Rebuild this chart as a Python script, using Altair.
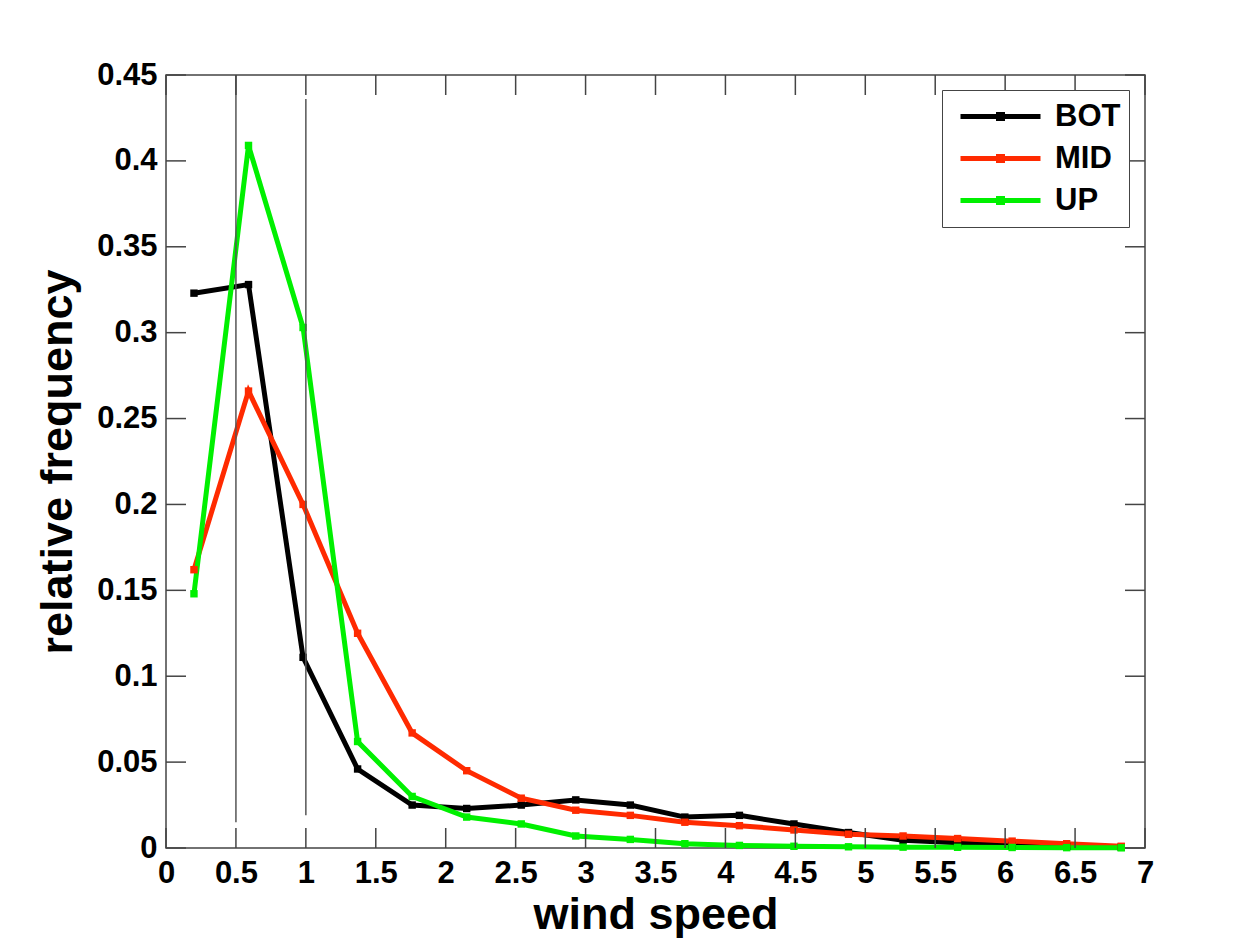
import altair as alt
import pandas as pd

# ---- data ----
speed = [0.2, 0.59, 0.98, 1.37, 1.76, 2.15, 2.54, 2.93, 3.32, 3.71, 4.1, 4.49,
         4.88, 5.27, 5.66, 6.05, 6.44, 6.83]
bot = [0.323, 0.328, 0.111, 0.046, 0.025, 0.023, 0.025, 0.028, 0.025, 0.018,
       0.019, 0.014, 0.009, 0.0045, 0.003, 0.0015, 0.001, 0.0005]
mid = [0.162, 0.266, 0.200, 0.125, 0.067, 0.045, 0.029, 0.022, 0.019, 0.015,
       0.013, 0.0105, 0.008, 0.007, 0.0055, 0.004, 0.0025, 0.001]
up = [0.148, 0.409, 0.303, 0.062, 0.030, 0.018, 0.014, 0.007, 0.005, 0.0025,
      0.0015, 0.001, 0.0007, 0.0005, 0.0004, 0.0003, 0.0002, 0.0001]
series_names = ["BOT", "MID", "UP"]
series_colors = ["#000000", "#ff2a00", "#00f000"]

x_ticks = [0, 0.5, 1, 1.5, 2, 2.5, 3, 3.5, 4, 4.5, 5, 5.5, 6, 6.5, 7]
y_ticks = [0, 0.05, 0.1, 0.15, 0.2, 0.25, 0.3, 0.35, 0.4, 0.45]

vline_x = [0.5, 1.0]
vline_top = [0.45, 0.436]
vline_bottom = [0.015, 0.019]

# ---- layout ----
W, H = 979, 773
TICK = 20
FONT = "Liberation Sans"
FRAME = "#444444"

rows = []
for name, vals in zip(series_names, [bot, mid, up]):
    for s, v in zip(speed, vals):
        rows.append({"speed": s, "freq": v, "series": name})
df = pd.DataFrame(rows)
xt_df = pd.DataFrame({"v": x_ticks})
yt_df = pd.DataFrame({"v": y_ticks})
vl_df = pd.DataFrame({"x": vline_x, "top": vline_top, "bottom": vline_bottom})

xscale = alt.Scale(domain=[0, 7], nice=False, zero=False)
yscale = alt.Scale(domain=[0, 0.45], nice=False)

x_axis = alt.Axis(values=x_ticks, format="~g", title="wind speed", tickSize=0,
                  domain=False, grid=False, labelPadding=10, titlePadding=4,
                  labelFlush=False)
y_axis = alt.Axis(values=y_ticks, format="~g", title="relative frequency",
                  tickSize=0, domain=False, grid=False, labelPadding=9,
                  titlePadding=16, labelFlush=False)

legend = alt.Legend(
    title=None, orient="none", legendX=776, legendY=15,
    symbolType="M-1,0L1,0M-0.05,-0.05L0.05,-0.05L0.05,0.05L-0.05,0.05Z",
    symbolSize=6400, symbolStrokeWidth=5, clipHeight=37, rowPadding=5,
    symbolOffset=8,
    labelFontSize=31, labelFont=FONT, labelFontWeight="bold",
    labelColor="black", labelOffset=12, padding=8, strokeColor=FRAME,
    fillColor="white", labelLimit=0,
)

vlines = alt.Chart(vl_df).mark_rule(color="#555555", strokeWidth=1.5).encode(
    x=alt.X("x:Q", scale=xscale, axis=x_axis),
    y=alt.Y("top:Q", scale=yscale, axis=y_axis),
    y2="bottom:Q",
)

tick_style = dict(color=FRAME, strokeWidth=1.5)
bottom_ticks = alt.Chart(xt_df).mark_rule(**tick_style).encode(
    x=alt.X("v:Q", scale=xscale, axis=x_axis),
    y=alt.value(H), y2=alt.value(H - TICK))
top_ticks = alt.Chart(xt_df).mark_rule(**tick_style).encode(
    x=alt.X("v:Q", scale=xscale, axis=x_axis),
    y=alt.value(0), y2=alt.value(TICK))
left_ticks = alt.Chart(yt_df).mark_rule(**tick_style).encode(
    y=alt.Y("v:Q", scale=yscale, axis=y_axis),
    x=alt.value(0), x2=alt.value(TICK))
right_ticks = alt.Chart(yt_df).mark_rule(**tick_style).encode(
    y=alt.Y("v:Q", scale=yscale, axis=y_axis),
    x=alt.value(W), x2=alt.value(W - TICK))

lines = alt.Chart(df).mark_line(
    strokeWidth=5,
    point=alt.OverlayMarkDef(shape="square", size=55, filled=True, opacity=1),
).encode(
    x=alt.X("speed:Q", scale=xscale, axis=x_axis),
    y=alt.Y("freq:Q", scale=yscale, axis=y_axis),
    color=alt.Color("series:N",
                    scale=alt.Scale(domain=series_names, range=series_colors),
                    sort=series_names, legend=legend),
)

chart = alt.layer(
    lines, vlines, bottom_ticks, top_ticks, left_ticks, right_ticks
).properties(
    width=W, height=H,
    autosize=alt.AutoSizeParams(type="none"),
    padding={"left": 158, "top": 67, "right": 80, "bottom": 90},
    background="white",
).configure_view(
    stroke=FRAME, strokeWidth=1.5, fill="white"
).configure_axis(
    labelFont=FONT, labelFontSize=31, labelFontWeight="bold", labelColor="black",
    titleFont=FONT, titleFontSize=45, titleFontWeight="bold", titleColor="black",
)

chart.save("out.html", embed_options={"renderer": "svg", "actions": False})
